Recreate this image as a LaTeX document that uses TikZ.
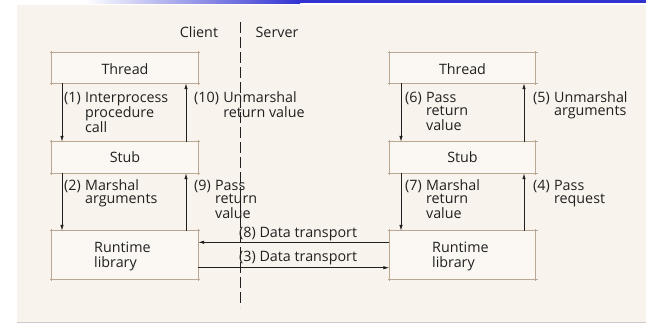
\documentclass[tikz,border=0pt]{standalone}
\usepackage{fontspec}
\setmainfont{Open Sans}
\usetikzlibrary{arrows.meta}
\definecolor{panel}{RGB}{248,243,236}
\definecolor{boxline}{RGB}{186,168,148}
\definecolor{ink}{RGB}{32,32,32}
\definecolor{bandblue}{RGB}{50,50,210}
% numbered step with hanging indent
\newcommand{\hang}[2]{#1\hspace{0.3em}\begin{tabular}[t]{@{}l@{}}#2\end{tabular}}
% box outline whose edges run a little past the corners
\newcommand{\layerframe}[1]{%
  \draw[edge] (#1.north west) -- (#1.north east);
  \draw[edge] (#1.south west) -- (#1.south east);
  \draw[edge] (#1.north west) -- (#1.south west);
  \draw[edge] (#1.north east) -- (#1.south east);}
\tikzset{
  lbl/.style={anchor=base west, inner sep=0pt, text=ink, font=\fontsize{14.3}{13}\selectfont},
  layer/.style={fill=panel!60!white, minimum width=146pt, inner sep=0pt},
  edge/.style={draw=boxline, line width=0.9pt, shorten <=-1.8pt, shorten >=-1.8pt},
  flow/.style={draw=ink, line width=0.8pt, -{Latex[length=6pt,width=3.5pt]}},
}
\begin{document}
\begin{tikzpicture}[x=1pt,y=-1pt]
\useasboundingbox (0,0) rectangle (646,325);
\fill[white] (0,0) rectangle (646,325);
% page panel and header band
\fill[panel] (17,5) rectangle (646,322);
\draw[gray!40, line width=0.8pt] (17,322.5) -- (646,322.5);
\shade[left color=white, right color=bandblue] (85,0) rectangle (300,3);
\fill[bandblue] (300,0) rectangle (646,3);

% client / server divider
\coordinate (divtop) at (240,22);
\coordinate (divbot) at (240,307);
\draw[ink, line width=0.7pt, dash pattern=on 11pt off 4pt] (divtop) -- (divbot);
\node[lbl, anchor=base] (client) at (199,37.5) {Client};
\node[lbl, anchor=base] (server) at (277,37.5) {Server};

% client layers
\node[layer, minimum height=30pt] (thL) at (125,68) {};
\node[layer, minimum height=31pt] (stL) at (125,157.5) {};
\node[layer, minimum height=48pt] (rtL) at (125,255) {};
% server layers
\node[layer, minimum height=30pt] (thR) at (462.5,68) {};
\node[layer, minimum height=31pt] (stR) at (462.5,157.5) {};
\node[layer, minimum height=48pt] (rtR) at (462.5,255) {};
\layerframe{thL}\layerframe{stL}\layerframe{rtL}
\layerframe{thR}\layerframe{stR}\layerframe{rtR}

\node[lbl, anchor=base] (thLt) at (thL.center |- 0,74) {Thread};
\node[lbl, anchor=base] (thRt) at (thR.center |- 0,74) {Thread};
\node[lbl, anchor=base] (stLt) at (stL.center |- 0,162) {Stub};
\node[lbl, anchor=base] (stRt) at (stR.center |- 0,162) {Stub};
\node[lbl] (rtLt) at (94,252.5) {\begin{tabular}[t]{@{}l@{}}Runtime\\library\end{tabular}};
\node[lbl] (rtRt) at (432,252.5) {\begin{tabular}[t]{@{}l@{}}Runtime\\library\end{tabular}};

% arrow columns
\coordinate (cl) at (62,0);
\coordinate (cr) at (186,0);
\coordinate (sl) at (401,0);
\coordinate (sr) at (524,0);

% client side calls
\draw[flow] (cl |- thL.south) -- (cl |- stL.north);
\draw[flow] (cr |- stL.north) -- (cr |- thL.south);
\draw[flow] (cl |- stL.south) -- (cl |- rtL.north);
\draw[flow] (cr |- rtL.north) -- (cr |- stL.south);
% server side calls
\draw[flow] (sl |- thR.south) -- (sl |- stR.north);
\draw[flow] (sr |- stR.north) -- (sr |- thR.south);
\draw[flow] (sl |- stR.south) -- (sl |- rtR.north);
\draw[flow] (sr |- rtR.north) -- (sr |- stR.south);
% network transport
\coordinate (trA) at (0,242.3);
\coordinate (trB) at (0,267.7);
\draw[flow] (rtR.west |- trA) -- (rtL.east |- trA);
\draw[flow] (rtL.east |- trB) -- (rtR.west |- trB);

% step labels
\node[lbl] (s1) at (64,102.5) {\hang{(1)}{Interprocess\\procedure\\call}};
\node[lbl] (s10) at (194,102.5) {\hang{(10)}{Unmarshal\\return value}};
\node[lbl] (s2) at (64,190.5) {\hang{(2)}{Marshal\\arguments}};
\node[lbl] (s9) at (194,190.5) {\hang{(9)}{Pass\\return\\value}};
\node[lbl] (s6) at (405,102.5) {\hang{(6)}{Pass\\return\\value}};
\node[lbl] (s5) at (533,102.5) {\hang{(5)}{Unmarshal\\arguments}};
\node[lbl] (s7) at (405,190.5) {\hang{(7)}{Marshal\\return\\value}};
\node[lbl] (s4) at (533,190.5) {\hang{(4)}{Pass\\request}};
\node[lbl] (s8) at (239,237.7) {(8) Data transport};
\node[lbl] (s3) at (239,261.7) {(3) Data transport};
\end{tikzpicture}
\end{document}
